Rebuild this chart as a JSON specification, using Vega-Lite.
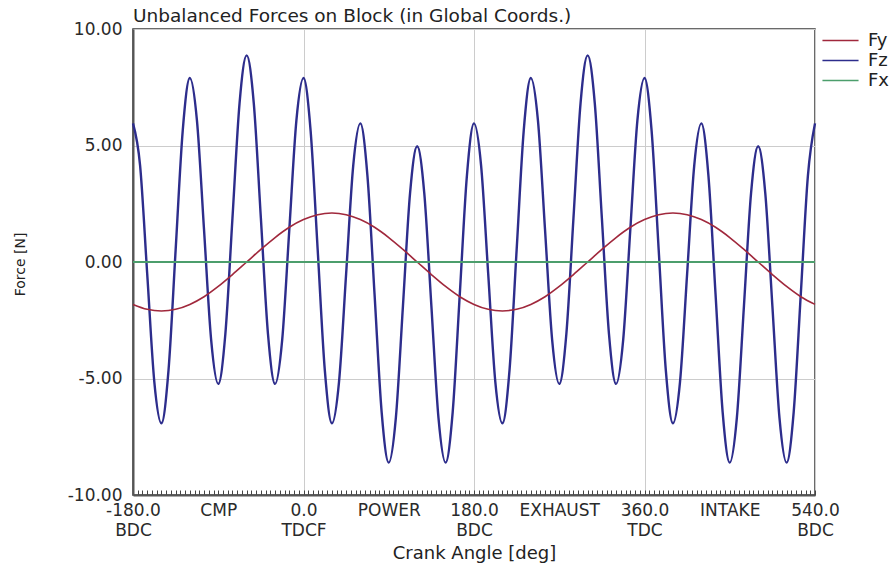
{
  "$schema": "https://vega.github.io/schema/vega-lite/v6.json",
  "width": 682,
  "height": 466,
  "autosize": {"type": "none"},
  "padding": {"left": 133, "top": 29, "right": 75, "bottom": 69},
  "background": "white",
  "title": {
    "text": "Unbalanced Forces on Block (in Global Coords.)",
    "anchor": "start",
    "frame": "group",
    "font": "DejaVu Sans",
    "fontSize": 18.5,
    "fontWeight": "normal",
    "color": "#222222",
    "offset": -5
  },
  "datasets": {
    "forces": [
      {"angle": -180, "force": 5.95, "series": "Fz"},
      {"angle": -172.5, "force": 4.14, "series": "Fz"},
      {"angle": -165, "force": -0.51, "series": "Fz"},
      {"angle": -157.5, "force": -5.14, "series": "Fz"},
      {"angle": -150, "force": -6.92, "series": "Fz"},
      {"angle": -142.5, "force": -4.64, "series": "Fz"},
      {"angle": -135, "force": 0.51, "series": "Fz"},
      {"angle": -127.5, "force": 5.64, "series": "Fz"},
      {"angle": -120, "force": 7.9, "series": "Fz"},
      {"angle": -112.5, "force": 6.08, "series": "Fz"},
      {"angle": -105, "force": 1.38, "series": "Fz"},
      {"angle": -97.5, "force": -3.34, "series": "Fz"},
      {"angle": -90, "force": -5.23, "series": "Fz"},
      {"angle": -82.5, "force": -3.09, "series": "Fz"},
      {"angle": -75, "force": 1.88, "series": "Fz"},
      {"angle": -67.5, "force": 6.82, "series": "Fz"},
      {"angle": -60, "force": 8.87, "series": "Fz"},
      {"angle": -52.5, "force": 6.82, "series": "Fz"},
      {"angle": -45, "force": 1.88, "series": "Fz"},
      {"angle": -37.5, "force": -3.09, "series": "Fz"},
      {"angle": -30, "force": -5.23, "series": "Fz"},
      {"angle": -22.5, "force": -3.34, "series": "Fz"},
      {"angle": -15, "force": 1.38, "series": "Fz"},
      {"angle": -7.5, "force": 6.08, "series": "Fz"},
      {"angle": 0, "force": 7.9, "series": "Fz"},
      {"angle": 7.5, "force": 5.64, "series": "Fz"},
      {"angle": 15, "force": 0.51, "series": "Fz"},
      {"angle": 22.5, "force": -4.64, "series": "Fz"},
      {"angle": 30, "force": -6.92, "series": "Fz"},
      {"angle": 37.5, "force": -5.14, "series": "Fz"},
      {"angle": 45, "force": -0.51, "series": "Fz"},
      {"angle": 52.5, "force": 4.14, "series": "Fz"},
      {"angle": 60, "force": 5.95, "series": "Fz"},
      {"angle": 67.5, "force": 3.7, "series": "Fz"},
      {"angle": 75, "force": -1.38, "series": "Fz"},
      {"angle": 82.5, "force": -6.44, "series": "Fz"},
      {"angle": 90, "force": -8.61, "series": "Fz"},
      {"angle": 97.5, "force": -6.69, "series": "Fz"},
      {"angle": 105, "force": -1.88, "series": "Fz"},
      {"angle": 112.5, "force": 2.96, "series": "Fz"},
      {"angle": 120, "force": 4.97, "series": "Fz"},
      {"angle": 127.5, "force": 2.96, "series": "Fz"},
      {"angle": 135, "force": -1.88, "series": "Fz"},
      {"angle": 142.5, "force": -6.69, "series": "Fz"},
      {"angle": 150, "force": -8.61, "series": "Fz"},
      {"angle": 157.5, "force": -6.44, "series": "Fz"},
      {"angle": 165, "force": -1.38, "series": "Fz"},
      {"angle": 172.5, "force": 3.7, "series": "Fz"},
      {"angle": 180, "force": 5.95, "series": "Fz"},
      {"angle": 187.5, "force": 4.14, "series": "Fz"},
      {"angle": 195, "force": -0.51, "series": "Fz"},
      {"angle": 202.5, "force": -5.14, "series": "Fz"},
      {"angle": 210, "force": -6.92, "series": "Fz"},
      {"angle": 217.5, "force": -4.64, "series": "Fz"},
      {"angle": 225, "force": 0.51, "series": "Fz"},
      {"angle": 232.5, "force": 5.64, "series": "Fz"},
      {"angle": 240, "force": 7.9, "series": "Fz"},
      {"angle": 247.5, "force": 6.08, "series": "Fz"},
      {"angle": 255, "force": 1.38, "series": "Fz"},
      {"angle": 262.5, "force": -3.34, "series": "Fz"},
      {"angle": 270, "force": -5.23, "series": "Fz"},
      {"angle": 277.5, "force": -3.09, "series": "Fz"},
      {"angle": 285, "force": 1.88, "series": "Fz"},
      {"angle": 292.5, "force": 6.82, "series": "Fz"},
      {"angle": 300, "force": 8.87, "series": "Fz"},
      {"angle": 307.5, "force": 6.82, "series": "Fz"},
      {"angle": 315, "force": 1.88, "series": "Fz"},
      {"angle": 322.5, "force": -3.09, "series": "Fz"},
      {"angle": 330, "force": -5.23, "series": "Fz"},
      {"angle": 337.5, "force": -3.34, "series": "Fz"},
      {"angle": 345, "force": 1.38, "series": "Fz"},
      {"angle": 352.5, "force": 6.08, "series": "Fz"},
      {"angle": 360, "force": 7.9, "series": "Fz"},
      {"angle": 367.5, "force": 5.64, "series": "Fz"},
      {"angle": 375, "force": 0.51, "series": "Fz"},
      {"angle": 382.5, "force": -4.64, "series": "Fz"},
      {"angle": 390, "force": -6.92, "series": "Fz"},
      {"angle": 397.5, "force": -5.14, "series": "Fz"},
      {"angle": 405, "force": -0.51, "series": "Fz"},
      {"angle": 412.5, "force": 4.14, "series": "Fz"},
      {"angle": 420, "force": 5.95, "series": "Fz"},
      {"angle": 427.5, "force": 3.7, "series": "Fz"},
      {"angle": 435, "force": -1.38, "series": "Fz"},
      {"angle": 442.5, "force": -6.44, "series": "Fz"},
      {"angle": 450, "force": -8.61, "series": "Fz"},
      {"angle": 457.5, "force": -6.69, "series": "Fz"},
      {"angle": 465, "force": -1.88, "series": "Fz"},
      {"angle": 472.5, "force": 2.96, "series": "Fz"},
      {"angle": 480, "force": 4.97, "series": "Fz"},
      {"angle": 487.5, "force": 2.96, "series": "Fz"},
      {"angle": 495, "force": -1.88, "series": "Fz"},
      {"angle": 502.5, "force": -6.69, "series": "Fz"},
      {"angle": 510, "force": -8.61, "series": "Fz"},
      {"angle": 517.5, "force": -6.44, "series": "Fz"},
      {"angle": 525, "force": -1.38, "series": "Fz"},
      {"angle": 532.5, "force": 3.7, "series": "Fz"},
      {"angle": 540, "force": 5.95, "series": "Fz"},
      {"angle": -180, "force": -1.82, "series": "Fy"},
      {"angle": -165, "force": -2.03, "series": "Fy"},
      {"angle": -150, "force": -2.1, "series": "Fy"},
      {"angle": -135, "force": -2.03, "series": "Fy"},
      {"angle": -120, "force": -1.82, "series": "Fy"},
      {"angle": -105, "force": -1.49, "series": "Fy"},
      {"angle": -90, "force": -1.05, "series": "Fy"},
      {"angle": -75, "force": -0.54, "series": "Fy"},
      {"angle": -60, "force": 0, "series": "Fy"},
      {"angle": -45, "force": 0.54, "series": "Fy"},
      {"angle": -30, "force": 1.05, "series": "Fy"},
      {"angle": -15, "force": 1.49, "series": "Fy"},
      {"angle": 0, "force": 1.82, "series": "Fy"},
      {"angle": 15, "force": 2.03, "series": "Fy"},
      {"angle": 30, "force": 2.1, "series": "Fy"},
      {"angle": 45, "force": 2.03, "series": "Fy"},
      {"angle": 60, "force": 1.82, "series": "Fy"},
      {"angle": 75, "force": 1.49, "series": "Fy"},
      {"angle": 90, "force": 1.05, "series": "Fy"},
      {"angle": 105, "force": 0.54, "series": "Fy"},
      {"angle": 120, "force": 0, "series": "Fy"},
      {"angle": 135, "force": -0.54, "series": "Fy"},
      {"angle": 150, "force": -1.05, "series": "Fy"},
      {"angle": 165, "force": -1.49, "series": "Fy"},
      {"angle": 180, "force": -1.82, "series": "Fy"},
      {"angle": 195, "force": -2.03, "series": "Fy"},
      {"angle": 210, "force": -2.1, "series": "Fy"},
      {"angle": 225, "force": -2.03, "series": "Fy"},
      {"angle": 240, "force": -1.82, "series": "Fy"},
      {"angle": 255, "force": -1.49, "series": "Fy"},
      {"angle": 270, "force": -1.05, "series": "Fy"},
      {"angle": 285, "force": -0.54, "series": "Fy"},
      {"angle": 300, "force": 0, "series": "Fy"},
      {"angle": 315, "force": 0.54, "series": "Fy"},
      {"angle": 330, "force": 1.05, "series": "Fy"},
      {"angle": 345, "force": 1.49, "series": "Fy"},
      {"angle": 360, "force": 1.82, "series": "Fy"},
      {"angle": 375, "force": 2.03, "series": "Fy"},
      {"angle": 390, "force": 2.1, "series": "Fy"},
      {"angle": 405, "force": 2.03, "series": "Fy"},
      {"angle": 420, "force": 1.82, "series": "Fy"},
      {"angle": 435, "force": 1.49, "series": "Fy"},
      {"angle": 450, "force": 1.05, "series": "Fy"},
      {"angle": 465, "force": 0.54, "series": "Fy"},
      {"angle": 480, "force": 0, "series": "Fy"},
      {"angle": 495, "force": -0.54, "series": "Fy"},
      {"angle": 510, "force": -1.05, "series": "Fy"},
      {"angle": 525, "force": -1.49, "series": "Fy"},
      {"angle": 540, "force": -1.82, "series": "Fy"},
      {"angle": -180, "force": 0, "series": "Fx"},
      {"angle": 540, "force": 0, "series": "Fx"}
    ]
  },
  "data": {"name": "forces"},
  "encoding": {
    "x": {
      "field": "angle",
      "type": "quantitative",
      "scale": {"domain": [-180, 540], "nice": false, "zero": false},
      "axis": {
        "orient": "bottom",
        "tickCount": 144,
        "labelExpr": "datum.value == -180 ? ['-180.0', 'BDC'] : datum.value == -90 ? 'CMP' : datum.value == 0 ? ['0.0', 'TDCF'] : datum.value == 90 ? 'POWER' : datum.value == 180 ? ['180.0', 'BDC'] : datum.value == 270 ? 'EXHAUST' : datum.value == 360 ? ['360.0', 'TDC'] : datum.value == 450 ? 'INTAKE' : datum.value == 540 ? ['540.0', 'BDC'] : ''",
        "labelFont": "DejaVu Sans",
        "labelFontSize": 17,
        "labelColor": "#2a2a2a",
        "labelLineHeight": 20,
        "labelBaseline": "top",
        "labelPadding": 12,
        "labelAngle": 0,
        "labelOverlap": false,
        "labelBound": false,
        "labelFlush": false,
        "ticks": true,
        "tickSize": -5,
        "tickColor": "#444444",
        "tickWidth": 1,
        "domain": true,
        "domainColor": "#555555",
        "domainWidth": 2,
        "grid": true,
        "gridColor": "#cccccc",
        "gridWidth": 1,
        "gridOpacity": {"condition": {"test": "datum.value % 180 == 0", "value": 1}, "value": 0},
        "title": "Crank Angle [deg]",
        "titleFont": "DejaVu Sans",
        "titleFontSize": 18,
        "titleFontWeight": "normal",
        "titleColor": "#222222",
        "titleBaseline": "alphabetic",
        "titleY": 63
      }
    },
    "y": {
      "field": "force",
      "type": "quantitative",
      "scale": {"domain": [-10, 10], "nice": false},
      "axis": {
        "values": [-10, -5, 0, 5, 10],
        "format": ".2f",
        "labelExpr": "replace(datum.label, '\u2212', '-')",
        "labelFont": "DejaVu Sans",
        "labelFontSize": 17,
        "labelColor": "#2a2a2a",
        "labelPadding": 11,
        "ticks": false,
        "domain": true,
        "domainColor": "#555555",
        "domainWidth": 2,
        "grid": true,
        "gridColor": "#cccccc",
        "gridWidth": 1,
        "title": "Force [N]",
        "titleFont": "DejaVu Sans",
        "titleFontSize": 14,
        "titleFontWeight": "normal",
        "titleColor": "#222222",
        "titleAngle": -90,
        "titleX": -106,
        "titleY": 235
      }
    },
    "color": {
      "field": "series",
      "type": "nominal",
      "scale": {"domain": ["Fy", "Fz", "Fx"], "range": ["#a0283c", "#2d2d8c", "#4c9e6c"]},
      "legend": {
        "orient": "none",
        "legendX": 697,
        "legendY": 1,
        "title": null,
        "padding": 0,
        "symbolType": "M-1.9,0H1.9",
        "symbolSize": 361,
        "symbolStrokeWidth": 1.6,
        "labelFont": "DejaVu Sans",
        "labelFontSize": 18,
        "labelColor": "#222222",
        "labelOffset": 17,
        "rowPadding": 0
      }
    }
  },
  "layer": [
    {
      "transform": [{"filter": "datum.series == 'Fz'"}],
      "mark": {"type": "line", "interpolate": "monotone", "strokeWidth": 2.4}
    },
    {
      "transform": [{"filter": "datum.series == 'Fy'"}],
      "mark": {"type": "line", "interpolate": "monotone", "strokeWidth": 1.6}
    },
    {
      "transform": [{"filter": "datum.series == 'Fx'"}],
      "mark": {"type": "line", "strokeWidth": 2}
    }
  ],
  "config": {
    "font": "DejaVu Sans",
    "view": {"stroke": "#3a3a3a", "strokeWidth": 1.5}
  }
}
